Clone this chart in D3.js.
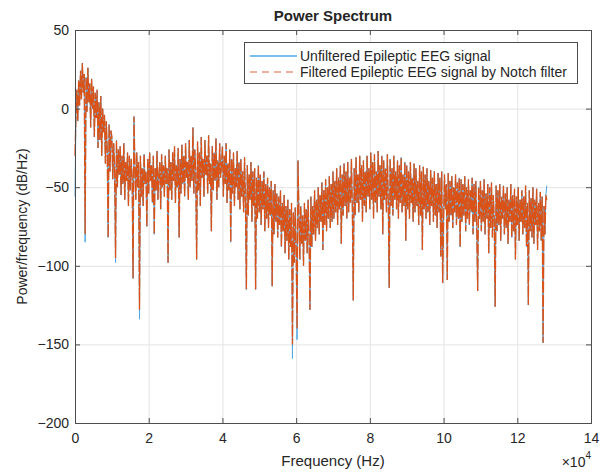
<!DOCTYPE html>
<html lang="en">
<head>
<meta charset="UTF-8">
<title>Power Spectrum</title>
<style>
  body { margin: 0; background: #fff; }
  text { font-family: "Liberation Sans", Arial, sans-serif; fill: #262626; }
</style>
</head>
<body>
<div id="viz-wrapper"></div>
<script src="https://cdn.jsdelivr.net/npm/d3@7"></script>
<script>
// spectrum bins, 250 Hz apart, 0 .. 128 kHz (one row = 5 kHz)
var freqStep = 250;

// power/frequency (dB/Hz) of the unfiltered signal
var unfilteredDb = [
  -56, -5, 12, -8, 18, 2, 24, 6, 29, 10, 22, -85, 20, -2, 26, 4, 16, -12, 19, 0,
  14, -18, 10, -6, 12, -25, 4, -20, 8, -30, 0, -15, -4, -35, -8, -28, -82, -10, -40, -14,
  -18, -45, -22, -38, -98, -20, -50, -26, -42, -24, -55, -30, -48, -22, -58, -34, -46, -28, -62, -30,
  -52, -32, -44, -108, -5, -36, -58, -28, -50, -34, -134, -30, -56, -38, -62, -29, -48, -40, -75, -32,
  -54, -28, -46, -36, -60, -30, -80, -38, -52, -27, -58, -42, -34, -64, -29, -50, -36, -56, -30, -48,
  -38, -98, -26, -52, -34, -58, -28, -46, -24, -60, -36, -50, -25, -82, -32, -54, -23, -48, -30, -56,
  -22, -44, -34, -58, -20, -50, -30, -46, -12, -54, -26, -40, -96, -21, -52, -28, -62, -18, -44, -32,
  -56, -20, -42, -30, -54, -17, -48, -35, -78, -24, -52, -28, -46, -19, -58, -33, -50, -22, -44, -36,
  -24, -56, -30, -48, -22, -60, -35, -52, -26, -85, -32, -54, -28, -62, -38, -50, -27, -58, -34, -64,
  -32, -56, -40, -66, -31, -60, -115, -36, -68, -42, -58, -34, -72, -40, -62, -38, -115, -44, -70, -36,
  -66, -42, -74, -46, -64, -40, -78, -48, -70, -44, -76, -50, -68, -46, -113, -52, -80, -48, -72, -54,
  -82, -56, -74, -52, -88, -60, -78, -55, -92, -62, -84, -58, -96, -64, -88, -60, -159, -66, -98, -63,
  -90, -147, -33, -66, -96, -62, -86, -68, -100, -60, -84, -64, -92, -58, -82, -128, -56, -88, -62, -80,
  -52, -84, -58, -76, -50, -80, -55, -72, -47, -90, -52, -74, -45, -78, -50, -70, -43, -76, -48, -72,
  -40, -70, -46, -66, -38, -74, -44, -64, -36, -86, -42, -68, -35, -62, -40, -70, -34, -66, -44, -60,
  -32, -64, -122, -38, -68, -31, -60, -42, -66, -30, -58, -36, -72, -33, -62, -40, -66, -30, -56, -38,
  -64, -28, -58, -34, -70, -29, -60, -40, -66, -27, -56, -36, -64, -30, -80, -33, -58, -38, -66, -29,
  -60, -114, -32, -62, -38, -68, -30, -58, -40, -64, -33, -70, -36, -60, -31, -66, -42, -62, -34, -84,
  -36, -64, -40, -70, -34, -60, -44, -72, -35, -66, -38, -62, -46, -74, -36, -68, -40, -90, -37, -64,
  -42, -70, -38, -66, -46, -74, -39, -62, -44, -72, -40, -68, -48, -76, -41, -66, -44, -94, -40, -111,
  -70, -42, -64, -48, -109, -41, -72, -46, -68, -43, -76, -50, -66, -42, -74, -47, -70, -44, -88, -45,
  -72, -48, -68, -43, -78, -50, -70, -45, -74, -52, -66, -44, -80, -48, -72, -46, -76, -116, -50, -70,
  -46, -78, -52, -72, -45, -80, -54, -70, -48, -92, -50, -76, -47, -82, -55, -72, -126, -49, -78, -52,
  -74, -48, -84, -56, -70, -49, -80, -54, -76, -50, -86, -58, -72, -48, -82, -55, -78, -51, -96, -56,
  -74, -50, -84, -58, -72, -52, -80, -56, -76, -49, -88, -60, -125, -52, -78, -57, -82, -50, -86, -58,
  -74, -51, -90, -60, -78, -53, -84, -56, -149, -62, -80, -55, -49
];

// same signal after the notch filter; it only departs from the raw trace in a few bins
var filteredDb = [
  -30, -5, 12, -8, 18, 2, 24, 6, 29, 10, 22, -80, 20, -2, 26, 4, 16, -12, 19, 0,
  14, -18, 10, -6, 12, -25, 4, -20, 8, -30, 0, -15, -4, -35, -8, -28, -82, -10, -40, -14,
  -18, -45, -22, -38, -95, -20, -50, -26, -42, -24, -55, -30, -48, -22, -58, -34, -46, -28, -62, -30,
  -52, -32, -44, -108, -5, -36, -58, -28, -50, -34, -128, -30, -56, -38, -62, -29, -48, -40, -75, -32,
  -54, -28, -46, -36, -60, -30, -80, -38, -52, -27, -58, -42, -34, -64, -29, -50, -36, -56, -30, -48,
  -38, -98, -26, -52, -34, -58, -28, -46, -24, -60, -36, -50, -25, -82, -32, -54, -23, -48, -30, -56,
  -22, -44, -34, -58, -20, -50, -30, -46, -12, -54, -26, -40, -96, -21, -52, -28, -62, -18, -44, -32,
  -56, -20, -42, -30, -54, -17, -48, -35, -78, -24, -52, -28, -46, -19, -58, -33, -50, -22, -44, -36,
  -24, -56, -30, -48, -22, -60, -35, -52, -26, -85, -32, -54, -28, -62, -38, -50, -27, -58, -34, -64,
  -32, -56, -40, -66, -31, -60, -115, -36, -68, -42, -58, -34, -72, -40, -62, -38, -115, -44, -70, -36,
  -66, -42, -74, -46, -64, -40, -78, -48, -70, -44, -76, -50, -68, -46, -113, -52, -80, -48, -72, -54,
  -82, -56, -74, -52, -88, -60, -78, -55, -92, -62, -84, -58, -96, -64, -88, -60, -150, -66, -98, -63,
  -90, -140, -33, -66, -96, -62, -86, -68, -100, -60, -84, -64, -92, -58, -82, -128, -56, -88, -62, -80,
  -52, -84, -58, -76, -50, -80, -55, -72, -47, -90, -52, -74, -45, -78, -50, -70, -43, -76, -48, -72,
  -40, -70, -46, -66, -38, -74, -44, -64, -36, -86, -42, -68, -35, -62, -40, -70, -34, -66, -44, -60,
  -32, -64, -122, -38, -68, -31, -60, -42, -66, -30, -58, -36, -72, -33, -62, -40, -66, -30, -56, -38,
  -64, -28, -58, -34, -70, -29, -60, -40, -66, -27, -56, -36, -64, -30, -80, -33, -58, -38, -66, -29,
  -60, -114, -32, -62, -38, -68, -30, -58, -40, -64, -33, -70, -36, -60, -31, -66, -42, -62, -34, -84,
  -36, -64, -40, -70, -34, -60, -44, -72, -35, -66, -38, -62, -46, -74, -36, -68, -40, -90, -37, -64,
  -42, -70, -38, -66, -46, -74, -39, -62, -44, -72, -40, -68, -48, -76, -41, -66, -44, -94, -40, -111,
  -70, -42, -64, -48, -109, -41, -72, -46, -68, -43, -76, -50, -66, -42, -74, -47, -70, -44, -88, -45,
  -72, -48, -68, -43, -78, -50, -70, -45, -74, -52, -66, -44, -80, -48, -72, -46, -76, -116, -50, -70,
  -46, -78, -52, -72, -45, -80, -54, -70, -48, -92, -50, -76, -47, -82, -55, -72, -126, -49, -78, -52,
  -74, -48, -84, -56, -70, -49, -80, -54, -76, -50, -86, -58, -72, -48, -82, -55, -78, -51, -96, -56,
  -74, -50, -84, -58, -72, -52, -80, -56, -76, -49, -88, -60, -125, -52, -78, -57, -82, -50, -86, -58,
  -74, -51, -90, -60, -78, -53, -84, -56, -149, -62, -80, -55, -58
];

var xTicks = [0, 20000, 40000, 60000, 80000, 100000, 120000, 140000];
var yTicks = [-200, -150, -100, -50, 0, 50];
var legendLabels = ["Unfiltered Epileptic EEG signal", "Filtered Epileptic EEG signal by Notch filter"];

var width = 607, height = 472;
// plot box (note: "top" is reserved on window, so keep it in an object)
var box = { left: 75, right: 591, top: 30, bottom: 423 };

var svg = d3.select("#viz-wrapper").append("svg")
  .attr("width", width)
  .attr("height", height);

var x = d3.scaleLinear().domain([0, 140000]).range([box.left, box.right]);
var y = d3.scaleLinear().domain([-200, 50]).range([box.bottom, box.top]);

// grid
svg.append("g").selectAll("line").data(xTicks.slice(1, -1)).enter().append("line")
  .attr("x1", d => x(d) + 0.5).attr("x2", d => x(d) + 0.5)
  .attr("y1", box.top).attr("y2", box.bottom)
  .attr("stroke", "#e3e3e3").attr("stroke-width", 1);
svg.append("g").selectAll("line").data(yTicks.slice(1, -1)).enter().append("line")
  .attr("x1", box.left).attr("x2", box.right)
  .attr("y1", d => y(d) + 0.5).attr("y2", d => y(d) + 0.5)
  .attr("stroke", "#e3e3e3").attr("stroke-width", 1);

// the two traces
var line = d3.line()
  .x((d, i) => x(i * freqStep))
  .y(d => y(d));

svg.append("path")
  .datum(unfilteredDb)
  .attr("d", line)
  .attr("fill", "none")
  .attr("stroke", "#4da8e6")
  .attr("stroke-width", 1);

svg.append("path")
  .datum(filteredDb)
  .attr("d", line)
  .attr("fill", "none")
  .attr("stroke", "#d95319")
  .attr("stroke-width", 1.35)
  .attr("stroke-dasharray", "12,2");

// box + inward ticks, matlab style
svg.append("rect")
  .attr("x", box.left + 0.5).attr("y", box.top + 0.5)
  .attr("width", box.right - box.left).attr("height", box.bottom - box.top)
  .attr("fill", "none").attr("stroke", "#4d4d4d").attr("stroke-width", 1);

var xAxisB = d3.axisBottom(x).tickValues(xTicks).tickSize(-5).tickFormat(d => d / 10000);
var xAxisT = d3.axisTop(x).tickValues(xTicks).tickSize(-5).tickFormat("");
var yAxisL = d3.axisLeft(y).tickValues(yTicks).tickSize(-5);
var yAxisR = d3.axisRight(y).tickValues(yTicks).tickSize(-5).tickFormat("");

function styleAxis(g) {
  g.select(".domain").remove();
  g.selectAll(".tick line").attr("stroke", "#4d4d4d");
  g.selectAll(".tick text")
    .attr("font-family", "Liberation Sans, Arial, sans-serif")
    .attr("font-size", 14)
    .attr("fill", "#262626");
}

svg.append("g").attr("transform", "translate(0," + box.bottom + ")").call(xAxisB).call(styleAxis)
  .selectAll(".tick text").attr("y", 10).attr("dy", "0.71em");
svg.append("g").attr("transform", "translate(0," + box.top + ")").call(xAxisT).call(styleAxis);
svg.append("g").attr("transform", "translate(" + box.left + ",0)").call(yAxisL).call(styleAxis)
  .selectAll(".tick text").attr("x", -6);
svg.append("g").attr("transform", "translate(" + box.right + ",0)").call(yAxisR).call(styleAxis);

// exponent label
var expo = svg.append("text").attr("x", 591).attr("y", 467).attr("text-anchor", "end")
  .attr("font-size", 14);
expo.append("tspan").text("\u00d710");
expo.append("tspan").attr("dy", -8).attr("font-size", 10).text("4");

// title and axis labels
svg.append("text").attr("x", (box.left + box.right) / 2).attr("y", 21)
  .attr("text-anchor", "middle").attr("font-size", 15).attr("font-weight", "bold")
  .text("Power Spectrum");

svg.append("text").attr("x", (box.left + box.right) / 2).attr("y", 466)
  .attr("text-anchor", "middle").attr("font-size", 15)
  .text("Frequency (Hz)");

svg.append("text")
  .attr("transform", "translate(27," + (box.top + box.bottom) / 2 + ") rotate(-90)")
  .attr("text-anchor", "middle").attr("font-size", 14)
  .text("Power/frequency (dB/Hz)");

// legend
var legend = svg.append("g");
legend.append("rect")
  .attr("x", 244.5).attr("y", 42.5).attr("width", 333).attr("height", 41)
  .attr("fill", "#fff").attr("stroke", "#4d4d4d").attr("stroke-width", 1);

legend.append("line")
  .attr("x1", 250).attr("x2", 297).attr("y1", 56).attr("y2", 56)
  .attr("stroke", "#4da8e6").attr("stroke-width", 1.5);
legend.append("line")
  .attr("x1", 250).attr("x2", 297).attr("y1", 72).attr("y2", 72)
  .attr("stroke", "#e8997a").attr("stroke-width", 1.5)
  .attr("stroke-dasharray", "7,5");

legend.selectAll("text.lab").data(legendLabels).enter().append("text")
  .attr("class", "lab")
  .attr("x", 300)
  .attr("y", (d, i) => 56 + i * 16)
  .attr("dy", "0.35em")
  .attr("font-size", 14)
  .text(d => d);
</script>
</body>
</html>
